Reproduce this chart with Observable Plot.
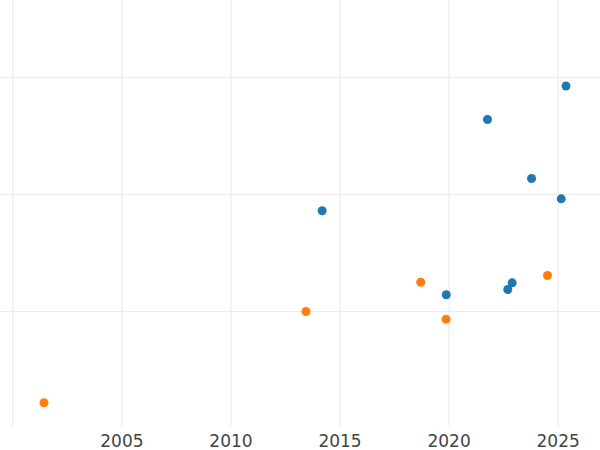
<!DOCTYPE html>
<html>
<head>
<meta charset="utf-8">
<script src="https://cdn.jsdelivr.net/npm/d3@7"></script>
<script src="https://cdn.jsdelivr.net/npm/@observablehq/plot@0.6"></script>
<style>
  html, body { margin: 0; padding: 0; background: #fff; }
  #chart { width: 600px; height: 450px; }
</style>
</head>
<body>
<div id="chart"></div>
<script>
// Series A (blue)
const blueYears  = [2025.36, 2021.76, 2023.78, 2025.14, 2014.18, 2019.87, 2022.69, 2022.89];
const blueValues = [2.927, 2.641, 2.137, 1.963, 1.861, 1.143, 1.188, 1.245];
// Series B (orange)
const orangeYears  = [2001.43, 2013.44, 2018.70, 2019.86, 2024.51];
const orangeValues = [0.220, 1.000, 1.250, 0.934, 1.308];

const xTicks = [2005, 2010, 2015, 2020, 2025];
const xGrid = [2000, 2005, 2010, 2015, 2020, 2025];
const yGrid = [1, 2, 3];

const blue = blueYears.map((x, i) => ({x, y: blueValues[i]}));
const orange = orangeYears.map((x, i) => ({x, y: orangeValues[i]}));

const chart = Plot.plot({
  width: 600,
  height: 450,
  marginTop: 0,
  marginBottom: 24,
  marginLeft: 0,
  marginRight: 0,
  style: {fontFamily: "DejaVu Sans", fontSize: "17px", color: "#444", background: "#fff"},
  x: {domain: [1999.436, 2026.94], label: null},
  y: {domain: [0.017, 3.658], label: null, axis: null},
  marks: [
    Plot.gridX(xGrid, {stroke: "#ebebeb", strokeOpacity: 1, strokeWidth: 1.2}),
    Plot.gridY(yGrid, {stroke: "#ebebeb", strokeOpacity: 1, strokeWidth: 1.2}),
    Plot.axisX(xTicks, {tickSize: 0, tickPadding: 8, tickFormat: d => String(d), fill: "#444", label: null}),
    Plot.dot(blue, {x: "x", y: "y", r: 4.5, fill: "#1f77b4", stroke: "none"}),
    Plot.dot(orange, {x: "x", y: "y", r: 4.5, fill: "#ff7f0e", stroke: "none"})
  ]
});
document.getElementById("chart").appendChild(chart);
</script>
</body>
</html>
